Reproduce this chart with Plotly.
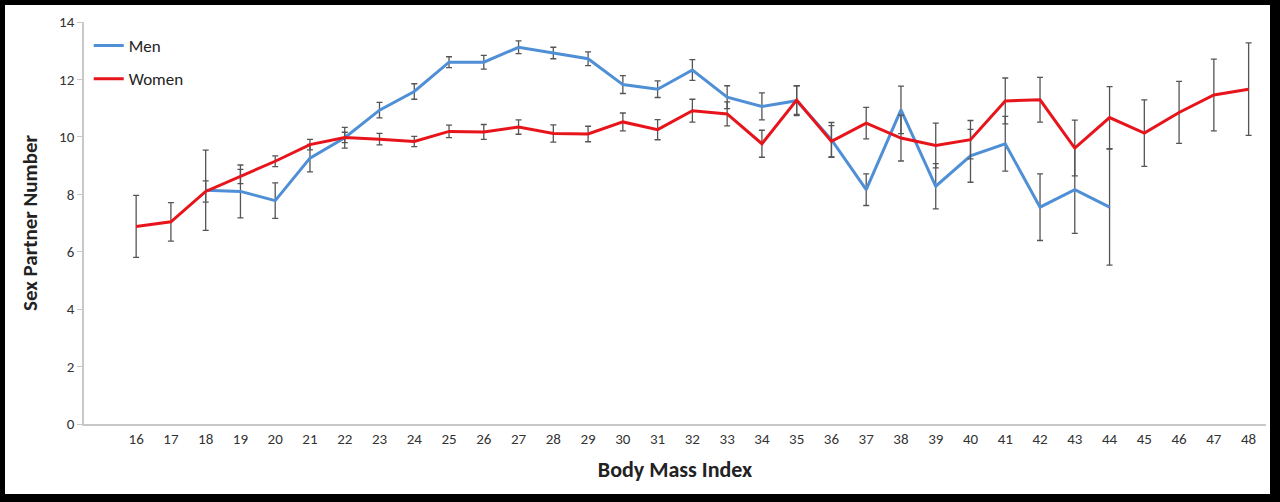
import plotly.graph_objects as go

bmi = list(range(16, 49))

men = [None, None, 8.14, 8.10, 7.78, 9.26, 9.97, 10.93, 11.58, 12.60, 12.60, 13.12,
       12.92, 12.72, 11.82, 11.66, 12.33, 11.38, 11.06, 11.26, 9.90, 8.16, 10.94,
       8.28, 9.34, 9.76, 7.55, 8.16, 7.55, None, None, None, None]
men_err = [None, None, 1.40, 0.92, 0.62, 0.48, 0.36, 0.27, 0.27, 0.19, 0.24, 0.22,
           0.20, 0.24, 0.31, 0.29, 0.36, 0.40, 0.47, 0.52, 0.60, 0.55, 0.83,
           0.79, 0.92, 0.95, 1.16, 1.52, 2.02, None, None, None, None]

women = [6.88, 7.04, 8.10, 8.62, 9.15, 9.73, 9.98, 9.92, 9.84, 10.19, 10.17, 10.34,
         10.12, 10.10, 10.52, 10.25, 10.91, 10.80, 9.76, 11.28, 9.84, 10.48, 9.96,
         9.70, 9.90, 11.25, 11.29, 9.61, 10.67, 10.13, 10.85, 11.46, 11.66]
women_err = [1.08, 0.67, 0.37, 0.25, 0.19, 0.18, 0.18, 0.20, 0.18, 0.22, 0.26, 0.25,
             0.30, 0.27, 0.31, 0.35, 0.40, 0.42, 0.47, 0.50, 0.55, 0.55, 0.80,
             0.78, 0.67, 0.80, 0.78, 0.97, 1.08, 1.16, 1.08, 1.25, 1.61]

y_ticks = [0, 2, 4, 6, 8, 10, 12, 14]

FONT = "Carlito, Lato, 'Liberation Sans', sans-serif"
ERR_COLOR = "#555555"

fig = go.Figure()
fig.add_trace(go.Scatter(
    x=bmi, y=men, name="Men", mode="lines", legendgroup="m",
    line=dict(color="#4F8FD6", width=3),
    error_y=dict(type="data", array=men_err, visible=True,
                 color=ERR_COLOR, thickness=1.3, width=3),
    connectgaps=False,
))
fig.add_trace(go.Scatter(
    x=bmi, y=women, name="Women", mode="lines", legendgroup="w",
    line=dict(color="#E8141B", width=3),
    error_y=dict(type="data", array=women_err, visible=True,
                 color=ERR_COLOR, thickness=1.3, width=3),
))

L, R, T, B = 84, 14, 22, 78
W, H = 1280, 502
pw, ph = W - L - R, H - T - B

def px_x(p):
    return (p - L) / pw

def px_y(p):
    return (H - B - p) / ph

# black frame around the picture
frame = [
    (0, 0, 5, H),
    (W - 10, 0, W, H),
    (0, 0, W, 5),
    (0, H - 8, W, H),
]
for x0, y0, x1, y1 in frame:
    fig.add_shape(type="rect", xref="paper", yref="paper",
                  x0=px_x(x0), x1=px_x(x1), y0=px_y(y1), y1=px_y(y0),
                  fillcolor="black", line=dict(width=0), layer="above")

fig.update_layout(
    width=W, height=H,
    margin=dict(l=L, r=R, t=T, b=B),
    paper_bgcolor="white", plot_bgcolor="white",
    font=dict(family=FONT, color="#404040", size=15),
    showlegend=True,
    legend=dict(x=0.004, y=0.985, xanchor="left", yanchor="top",
                font=dict(size=17, color="#222222"),
                bgcolor="rgba(0,0,0,0)", tracegroupgap=8,
                itemwidth=30),
    xaxis=dict(
        range=[14.5, 48.5], tickmode="array", tickvals=bmi,
        ticktext=[str(v) for v in bmi],
        showline=True, linecolor="#C8C8C8", linewidth=1.5,
        showgrid=False, zeroline=False, ticks="",
        tickfont=dict(size=15, color="#333333"),
        title=dict(text="<b>Body Mass Index</b>",
                   font=dict(size=22, color="#222222"), standoff=15),
    ),
    yaxis=dict(
        range=[0, 14], tickmode="array", tickvals=y_ticks,
        showline=True, linecolor="#C8C8C8", linewidth=1.5,
        showgrid=False, zeroline=False,
        ticks="outside", ticklen=5, tickcolor="#C8C8C8",
        tickfont=dict(size=15, color="#333333"),
        title=dict(text="<b>Sex Partner Number</b>",
                   font=dict(size=21, color="#222222"), standoff=16),
    ),
)

fig.write_html("out.html",
               config={"displayModeBar": False},
               post_script="document.body.style.margin='0';document.body.style.overflow='hidden';")
